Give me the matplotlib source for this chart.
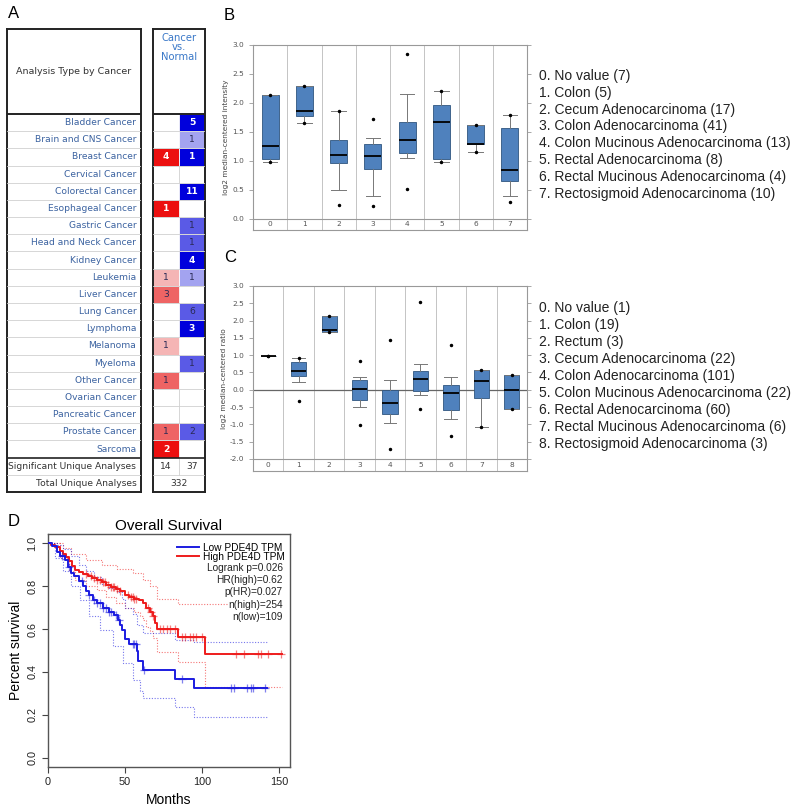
import numpy as np
import matplotlib
matplotlib.use("Agg")
import matplotlib.pyplot as plt
from matplotlib.patches import Rectangle
from matplotlib.lines import Line2D

# ---- panel A : Oncomine summary ----
cancers = ["Bladder Cancer", "Brain and CNS Cancer", "Breast Cancer", "Cervical Cancer",
           "Colorectal Cancer", "Esophageal Cancer", "Gastric Cancer", "Head and Neck Cancer",
           "Kidney Cancer", "Leukemia", "Liver Cancer", "Lung Cancer", "Lymphoma", "Melanoma",
           "Myeloma", "Other Cancer", "Ovarian Cancer", "Pancreatic Cancer", "Prostate Cancer",
           "Sarcoma"]
up_counts = [0, 0, 4, 0, 0, 1, 0, 0, 0, 1, 3, 0, 0, 1, 0, 1, 0, 0, 1, 2]
up_rank = [0, 0, 1, 0, 0, 1, 0, 0, 0, 10, 5, 0, 0, 10, 0, 5, 0, 0, 5, 1]
down_counts = [5, 1, 1, 0, 11, 0, 1, 1, 4, 1, 0, 6, 3, 0, 1, 0, 0, 0, 2, 0]
down_rank = [1, 10, 1, 0, 1, 0, 5, 5, 1, 10, 0, 5, 1, 0, 5, 0, 0, 0, 5, 0]
sig_up, sig_down, total_analyses = 14, 37, 332

# ---- panel B ----
b_labels = ["No value (7)", "Colon (5)", "Cecum Adenocarcinoma (17)", "Colon Adenocarcinoma (41)",
            "Colon Mucinous Adenocarcinoma (13)", "Rectal Adenocarcinoma (8)",
            "Rectal Mucinous Adenocarcinoma (4)", "Rectosigmoid Adenocarcinoma (10)"]
b_q1 = [1.03, 1.78, 0.96, 0.87, 1.14, 1.03, 1.30, 0.65]
b_med = [1.26, 1.87, 1.10, 1.09, 1.37, 1.67, 1.30, 0.84]
b_q3 = [2.14, 2.30, 1.36, 1.30, 1.67, 1.97, 1.62, 1.57]
b_wlo = [0.98, 1.66, 0.50, 0.39, 1.06, 0.99, 1.16, 0.40]
b_whi = [2.14, 2.30, 1.87, 1.40, 2.16, 2.20, 1.62, 1.79]
b_min = [0.98, 1.66, 0.24, 0.22, 0.51, 0.99, 1.16, 0.29]
b_max = [2.14, 2.30, 1.87, 1.73, 2.85, 2.20, 1.62, 1.79]

# ---- panel C ----
c_labels = ["No value (1)", "Colon (19)", "Rectum (3)", "Cecum Adenocarcinoma (22)",
            "Colon Adenocarcinoma (101)", "Colon Mucinous Adenocarcinoma (22)",
            "Rectal Adenocarcinoma (60)", "Rectal Mucinous Adenocarcinoma (6)",
            "Rectosigmoid Adenocarcinoma (3)"]
c_q1 = [0.97, 0.39, 1.67, -0.31, -0.69, -0.05, -0.60, -0.25, -0.57]
c_med = [0.97, 0.54, 1.73, 0.01, -0.38, 0.32, -0.10, 0.25, 0.00]
c_q3 = [0.97, 0.81, 2.14, 0.29, 0.00, 0.55, 0.14, 0.57, 0.43]
c_wlo = [0.97, 0.22, 1.67, -0.51, -0.96, -0.14, -0.86, -1.08, -0.57]
c_whi = [0.97, 0.91, 2.14, 0.37, 0.28, 0.74, 0.37, 0.57, 0.43]
c_min = [0.97, -0.34, 1.67, -1.01, -1.71, -0.57, -1.34, -1.08, -0.57]
c_max = [0.97, 0.93, 2.14, 0.83, 1.43, 2.53, 1.30, 0.57, 0.43]

# ---- panel D : Kaplan-Meier ----
high_t = [0, 2, 5, 8, 10, 12, 14, 16, 18, 20, 23, 26, 29, 32, 35, 38, 41, 44, 47, 50, 53,
          56, 59, 62, 64, 66, 68, 69.5, 70.6, 84.6, 101.9]
high_s = [1.0, 0.99, 0.98, 0.965, 0.95, 0.935, 0.915, 0.895, 0.875, 0.865, 0.855, 0.845,
          0.835, 0.83, 0.82, 0.805, 0.795, 0.785, 0.775, 0.76, 0.75, 0.74, 0.735, 0.72,
          0.70, 0.68, 0.66, 0.63, 0.60, 0.561, 0.482]
high_end = 151.5
low_t = [0, 3, 6, 8, 11, 13, 15, 17, 20, 23, 25, 27, 29.5, 32, 36, 40, 43, 45.5, 47, 48,
         50, 53, 57.6, 58.7, 61.9, 82.4, 94.8]
low_s = [1.0, 0.985, 0.96, 0.94, 0.92, 0.89, 0.86, 0.845, 0.825, 0.80, 0.775, 0.76, 0.735,
         0.72, 0.70, 0.68, 0.665, 0.64, 0.62, 0.595, 0.555, 0.53, 0.50, 0.45, 0.409, 0.367,
         0.324]
low_end = 141.8

high_up_t = [0, 10, 15, 25, 35, 45, 55, 62, 66, 70.6, 84.6]
high_up_s = [1.0, 0.975, 0.95, 0.92, 0.90, 0.88, 0.86, 0.83, 0.80, 0.74, 0.715]
high_lo_t = [0, 8, 14, 18, 25, 32, 38, 44, 50, 56, 60, 62, 64, 66, 68, 70.6, 84.6, 101.9]
high_lo_s = [1.0, 0.93, 0.87, 0.83, 0.80, 0.78, 0.75, 0.72, 0.70, 0.68, 0.66, 0.64, 0.61,
             0.59, 0.56, 0.494, 0.448, 0.332]
low_up_t = [0, 6, 10, 15, 20, 25, 30, 35, 40, 45, 48, 50, 55, 58, 62, 82.4, 94.8]
low_up_s = [1.0, 0.99, 0.97, 0.94, 0.90, 0.87, 0.84, 0.81, 0.79, 0.77, 0.74, 0.70, 0.67,
            0.62, 0.58, 0.55, 0.538]
low_lo_t = [0, 5, 10, 15, 21, 27, 34, 42, 49, 55, 60, 61.9, 82.4, 94.8]
low_lo_s = [1.0, 0.93, 0.87, 0.80, 0.735, 0.66, 0.595, 0.52, 0.44, 0.363, 0.31, 0.278,
            0.239, 0.192]

high_cens = [25, 28, 30, 32, 34, 36, 37, 39, 41, 42, 43, 45, 47, 52, 54, 55, 56, 57, 65, 67,
             68, 72.7, 74.7, 77.3, 79.2, 82.5, 86.8, 89, 92, 94, 96.4, 99.7, 122, 127, 136,
             138, 143, 151]
low_cens = [9, 14, 22, 27, 30, 32, 34, 36, 38, 40, 41, 44, 46, 55, 56, 57, 62.5, 86.8, 119,
            121, 129, 132, 133, 141]
km_stats = ["Logrank p=0.026", "HR(high)=0.62", "p(HR)=0.027", "n(high)=254", "n(low)=109"]

W, H = 798, 810
fig = plt.figure(figsize=(W / 100, H / 100), dpi=100)


def px_axes(x0, y0, x1, y1):
    return fig.add_axes([x0 / W, 1 - y1 / H, (x1 - x0) / W, (y1 - y0) / H])


for lab, x, y in [("A", 8, 13), ("B", 224, 15), ("C", 224, 258), ("D", 8, 521)]:
    fig.text(x / W, 1 - y / H, lab, fontsize=12, va="center", family="Liberation Sans")

# ================= A =================
nrow = len(cancers)
hdr = (114 - 29) / ((492 - 114) / (nrow + 2))
red_shades = {1: "#ec1010", 5: "#ee6464", 10: "#f5b5b5"}
blue_shades = {1: "#0000dc", 5: "#5a5ae6", 10: "#a3a3f0"}

axL = px_axes(7, 29, 141, 492)
axR = px_axes(153, 29, 205, 492)
for ax, xmax in [(axL, 1), (axR, 2)]:
    ax.set_xlim(0, xmax)
    ax.set_ylim(nrow + 2, -hdr)
    ax.set_xticks([])
    ax.set_yticks([])
    for sp in ax.spines.values():
        sp.set_linewidth(1.4)
        sp.set_color("#222222")
    for r in range(1, nrow + 2):
        ax.axhline(r, color="#222222" if r == nrow else "#d0d0d0",
                   lw=1.2 if r == nrow else 0.6, zorder=3)
    ax.axhline(0, color="#222222", lw=1.4, zorder=3)

axL.text(0.5, -hdr / 2, "Analysis Type by Cancer", ha="center", va="center",
         fontsize=6.8, color="#333333")
for i, name in enumerate(cancers):
    axL.text(0.965, i + 0.5, name, ha="right", va="center", fontsize=6.6, color="#3b62a0")
axL.text(0.965, nrow + 0.5, "Significant Unique Analyses", ha="right", va="center",
         fontsize=6.6, color="#333333")
axL.text(0.965, nrow + 1.5, "Total Unique Analyses", ha="right", va="center",
         fontsize=6.6, color="#333333")

axR.text(1, -hdr + 0.25, "Cancer\nvs.\nNormal", ha="center", va="top", fontsize=7.2,
         color="#3a78c8", linespacing=0.9)
for i in range(nrow):
    for col, cnt, rk, shades in [(0, up_counts[i], up_rank[i], red_shades),
                                 (1, down_counts[i], down_rank[i], blue_shades)]:
        if cnt > 0:
            axR.add_patch(Rectangle((col, i), 1, 1, facecolor=shades[rk], edgecolor="white",
                                    lw=0.6, zorder=2))
            tc = "white" if rk == 1 else "#2a2a55"
            axR.text(col + 0.5, i + 0.5, str(cnt), ha="center", va="center", fontsize=6.6,
                     color=tc, fontweight="bold" if rk == 1 else "normal", zorder=4)
axR.plot([1, 1], [0, nrow + 1], color="#d0d0d0", lw=0.6, zorder=1)
axR.text(0.5, nrow + 0.5, str(sig_up), ha="center", va="center", fontsize=6.6, color="#333333")
axR.text(1.5, nrow + 0.5, str(sig_down), ha="center", va="center", fontsize=6.6, color="#333333")
axR.text(1, nrow + 1.5, str(total_analyses), ha="center", va="center", fontsize=6.6,
         color="#333333")


# ================= B / C =================
def onco_box(ax, q1, med, q3, wlo, whi, vmin, vmax, ylo, yticks, ylabel, strip_y):
    n = len(med)
    stats = [dict(q1=q1[i], med=med[i], q3=q3[i], whislo=wlo[i], whishi=whi[i], fliers=[])
             for i in range(n)]
    ax.bxp(stats, positions=range(n), widths=0.5, capwidths=0.42, patch_artist=True,
           showfliers=False,
           boxprops=dict(facecolor="#4f81bd", edgecolor="#2f557f", lw=0.6),
           medianprops=dict(color="black", lw=1.3),
           whiskerprops=dict(color="#777777", lw=0.7),
           capprops=dict(color="#777777", lw=0.7))
    ax.scatter(range(n), vmin, s=2.2, color="black", zorder=5)
    ax.scatter(range(n), vmax, s=2.2, color="black", zorder=5)
    for i in range(1, n):
        ax.axvline(i - 0.5, color="#c4c4c4", lw=0.7, zorder=0)
    ax.axhline(strip_y, color="#999999", lw=0.8, zorder=0)
    ax.set_xlim(-0.5, n - 0.5)
    ax.set_ylim(ylo, 3.0)
    ax.set_xticks([])
    ax.set_yticks(yticks)
    ax.set_yticklabels([f"{v:.1f}" for v in yticks])
    ax.tick_params(axis="y", labelsize=5.3, labelcolor="#555555", color="#999999",
                   length=3, width=0.6, right=True, direction="out")
    for sp in ax.spines.values():
        sp.set_color("#999999")
        sp.set_linewidth(0.8)
    for i in range(n):
        ax.text(i, (strip_y + ylo) / 2, str(i), ha="center", va="center", fontsize=5.3,
                color="#555555")
    ax.set_ylabel(ylabel, fontsize=5.3, color="#444444", labelpad=2)


axB = px_axes(253, 45, 527, 230)
onco_box(axB, b_q1, b_med, b_q3, b_wlo, b_whi, b_min, b_max, -0.19,
         np.arange(0, 3.01, 0.5), "log2 median-centered intensity", 0.0)
for i, lab in enumerate(b_labels):
    fig.text(539 / W, 1 - (76 + i * 16.8) / H, f"{i}. {lab}", fontsize=10, va="center",
             family="Liberation Sans", color="#222222")

axC = px_axes(253, 286, 527, 471)
onco_box(axC, c_q1, c_med, c_q3, c_wlo, c_whi, c_min, c_max, -2.35,
         np.arange(-2.0, 3.01, 0.5), "log2 median-centered ratio", -2.0)
axC.axhline(0, color="#666666", lw=0.9, zorder=1)
for i, lab in enumerate(c_labels):
    fig.text(539 / W, 1 - (308 + i * 17.0) / H, f"{i}. {lab}", fontsize=10, va="center",
             family="Liberation Sans", color="#222222")

# ================= D =================
axD = px_axes(47.7, 534, 290, 767)
blue, red = "#1c1ce0", "#ee1c1c"


def step_of(t, s, end):
    return np.append(t, end), np.append(s, s[-1])


for t, s, end, col in [(high_t, high_s, high_end, red), (low_t, low_s, low_end, blue)]:
    tt, ss = step_of(t, s, end)
    axD.step(tt, ss, where="post", color=col, lw=1.4, zorder=3)
for t, s, end, col in [(high_up_t, high_up_s, high_end, red), (high_lo_t, high_lo_s, high_end, red),
                       (low_up_t, low_up_s, low_end, blue), (low_lo_t, low_lo_s, low_end, blue)]:
    tt, ss = step_of(t, s, end)
    axD.step(tt, ss, where="post", color=col, lw=0.8, ls=(0, (1, 1.5)), alpha=0.6, zorder=2)
for cens, t, s, col in [(high_cens, high_t, high_s, red), (low_cens, low_t, low_s, blue)]:
    idx = np.searchsorted(t, cens, side="right") - 1
    axD.plot(cens, np.array(s)[idx], "+", color=col, ms=6, mew=0.9, alpha=0.55, zorder=4)

axD.set_xlim(0, 157)
axD.set_ylim(-0.042, 1.042)
axD.set_xticks([0, 50, 100, 150])
axD.set_yticks(np.arange(0, 1.01, 0.2))
axD.set_yticklabels([f"{v:.1f}" for v in np.arange(0, 1.01, 0.2)], rotation=90, va="center")
axD.tick_params(labelsize=7.8, length=4, width=0.8, color="#444444", labelcolor="#222222")
for lab in axD.get_xticklabels() + axD.get_yticklabels():
    lab.set_family("Liberation Sans")
for sp in axD.spines.values():
    sp.set_color("#555555")
    sp.set_linewidth(1.0)
axD.set_title("Overall Survival", fontsize=11, pad=3, family="Liberation Sans")
axD.set_xlabel("Months", fontsize=10, family="Liberation Sans", labelpad=4)
axD.set_ylabel("Percent survival", fontsize=10, family="Liberation Sans", labelpad=3)

handles = [Line2D([], [], color=blue, lw=1.4), Line2D([], [], color=red, lw=1.4)]
axD.legend(handles, ["Low PDE4D TPM", "High PDE4D TPM"], loc="upper right",
           bbox_to_anchor=(1.0, 0.985), frameon=False, handlelength=2.2, handletextpad=0.4,
           labelspacing=-0.1, borderpad=0.2, borderaxespad=0.3,
           prop=dict(family="Liberation Sans", size=7.3))
for k, txt in enumerate(km_stats):
    axD.text(0.971, 0.854 - k * 0.0525, txt, transform=axD.transAxes, ha="right", va="center",
             fontsize=7.3, family="Liberation Sans", color="#222222",
             bbox=dict(facecolor="white", edgecolor="none", pad=0.3), zorder=6)

fig.savefig("out.png", dpi=100)
